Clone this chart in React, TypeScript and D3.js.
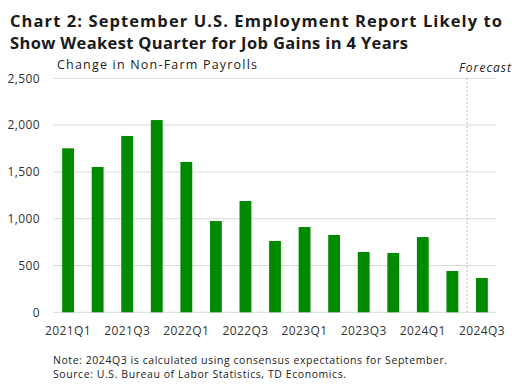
import React from 'react';
import { scaleBand, scaleLinear } from 'd3';

const quarters = [
  '2021Q1', '2021Q2', '2021Q3', '2021Q4',
  '2022Q1', '2022Q2', '2022Q3', '2022Q4',
  '2023Q1', '2023Q2', '2023Q3', '2023Q4',
  '2024Q1', '2024Q2', '2024Q3',
];
const payrolls = [1752, 1552, 1884, 2054, 1606, 975, 1189, 762, 911, 826, 644, 634, 804, 441, 366];
const yTicks = [0, 500, 1000, 1500, 2000, 2500];
const xTickLabels = ['2021Q1', '2021Q3', '2022Q1', '2022Q3', '2023Q1', '2023Q3', '2024Q1', '2024Q3'];

const W = 516;
const H = 384;
const left = 53.3;
const right = 496.7;
const top = 78.3;
const bottom = 312.3;
const font = "'Open Sans', sans-serif";

const App = () => {
  const x = scaleBand().domain(quarters).range([left, right]).paddingInner(0.6).paddingOuter(0.3);
  const y = scaleLinear().domain([0, 2500]).range([bottom, top]);
  const step = x.step();
  const forecastX = (x('2024Q2') as number) + x.bandwidth() / 2 + step / 2;
  const fmt = (v: number) => v.toLocaleString('en-US');

  return (
    <svg width={W} height={H} style={styles.chart}>
      <text x={10} y={27} fontFamily={font} fontWeight={700} fontSize={16.5} fill="#1a1a1a" textLength={492} lengthAdjust="spacing">
        Chart 2: September U.S. Employment Report Likely to
      </text>
      <text x={10} y={49} fontFamily={font} fontWeight={700} fontSize={16.5} fill="#1a1a1a" textLength={398} lengthAdjust="spacing">
        Show Weakest Quarter for Job Gains in 4 Years
      </text>
      <text x={57} y={69} fontFamily={font} fontSize={12.5} fill="#222" textLength={200} lengthAdjust="spacing">
        Change in Non-Farm Payrolls
      </text>
      <text x={511} y={72} textAnchor="end" fontFamily={font} fontStyle="italic" fontSize={12} fill="#222" textLength={52} lengthAdjust="spacing">
        Forecast
      </text>

      {yTicks.map((t) => (
        <g key={t}>
          <line x1={left} x2={right} y1={y(t)} y2={y(t)} stroke="#d9d9d9" strokeWidth={1} />
          <text x={40} y={y(t)} dy="0.35em" textAnchor="end" fontFamily={font} fontSize={12} fill="#333" letterSpacing={0.4}>
            {fmt(t)}
          </text>
        </g>
      ))}

      {payrolls.map((v, i) => (
        <rect
          key={quarters[i]}
          x={x(quarters[i])}
          y={y(v)}
          width={x.bandwidth()}
          height={y(0) - y(v)}
          fill="#008a00"
        />
      ))}

      <line x1={forecastX} x2={forecastX} y1={top} y2={bottom} stroke="#cfcfcf" strokeWidth={1.5} strokeDasharray="2,2" />

      {xTickLabels.map((q) => (
        <text
          key={q}
          x={(x(q) as number) + x.bandwidth() / 2}
          y={335}
          textAnchor="middle"
          fontFamily={font}
          fontSize={12}
          fill="#333"
          letterSpacing={0.4}
        >
          {q}
        </text>
      ))}

      <text x={53} y={364} fontFamily={font} fontSize={10.5} fill="#222" textLength={394} lengthAdjust="spacing">
        Note: 2024Q3 is calculated using consensus expectations for September.
      </text>
      <text x={53} y={378} fontFamily={font} fontSize={10.5} fill="#222" textLength={293} lengthAdjust="spacing">
        Source: U.S. Bureau of Labor Statistics, TD Economics.
      </text>
    </svg>
  );
};

export default App;

const styles = {
  chart: {
    background: '#fff',
    display: 'block',
    position: 'absolute' as const,
    left: 0,
    top: 0,
  },
};
